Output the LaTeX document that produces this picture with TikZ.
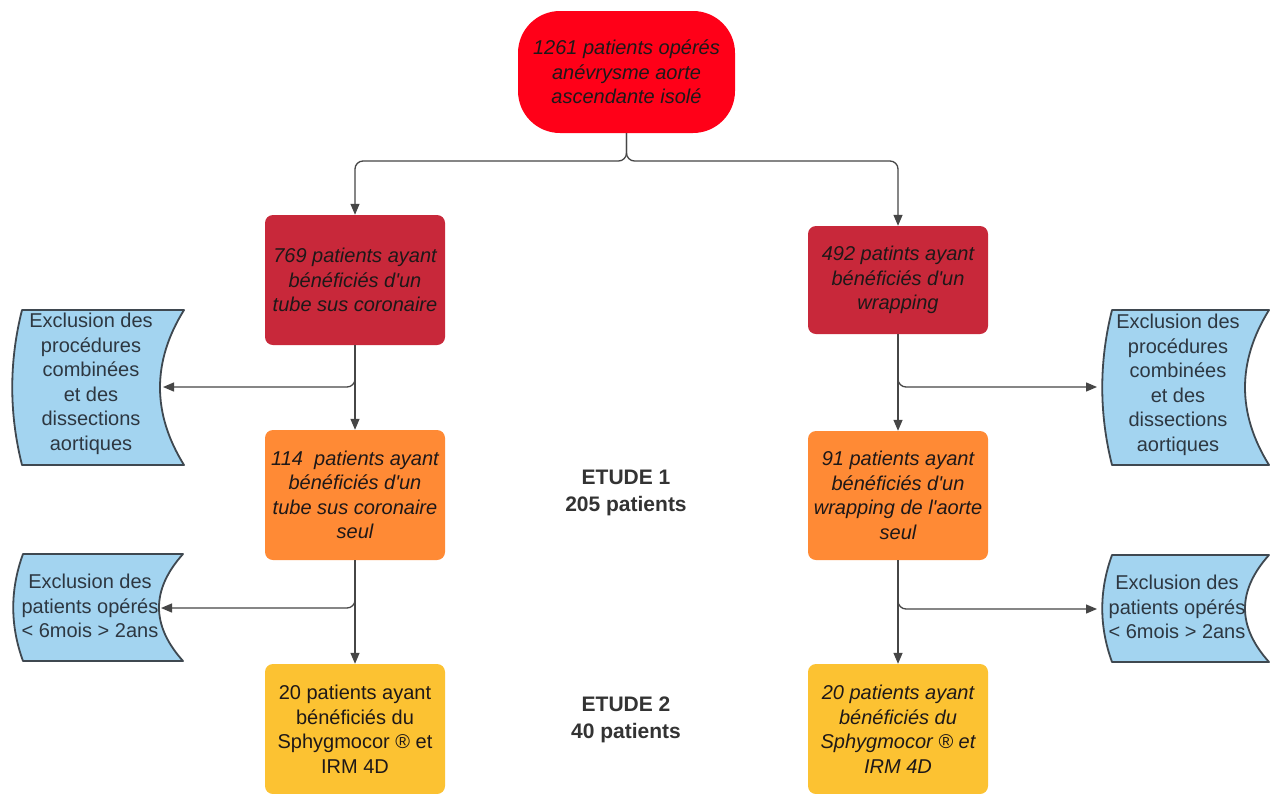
\documentclass[tikz,border=0pt]{standalone}
\usepackage{fontspec}
\setmainfont{Liberation Sans}
\usetikzlibrary{arrows.meta}
\definecolor{topred}{RGB}{255,0,24}
\definecolor{darkred}{RGB}{200,40,58}
\definecolor{orangeC}{RGB}{255,138,53}
\definecolor{yellowC}{RGB}{252,194,50}
\definecolor{blueC}{RGB}{163,212,240}
\definecolor{blueline}{RGB}{63,72,80}
\definecolor{lineC}{RGB}{70,70,70}
\definecolor{txt}{RGB}{30,24,24}
\definecolor{bluetxt}{RGB}{45,55,65}
\definecolor{etudetxt}{RGB}{51,51,51}
\newcommand\ap{\textquotesingle}
\newcommand\scrollshape[4]{%
  \draw[scroll] (#1,#3) -- (#2,#3)
    .. controls (#2-32,{#3+(#4-#3)/3}) and (#2-32,{#4-(#4-#3)/3}) .. (#2,#4)
    -- (#1,#4)
    .. controls (#1-13,{#4-(#4-#3)/3}) and (#1-13,{#3+(#4-#3)/3}) .. (#1,#3) -- cycle;}
\tikzset{
  box/.style={rectangle, rounded corners=8pt, minimum width=180pt, minimum height=130pt,
    inner sep=0pt, align=center, text=txt, font=\fontsize{20}{24.5}\selectfont},
  itbox/.style={box, font=\fontsize{20}{24.5}\selectfont\itshape},
  scroll/.style={fill=blueC, draw=blueline, line width=1.8pt, line join=round},
  bluetext/.style={align=center, text=bluetxt, inner sep=0pt, font=\fontsize{20}{24.5}\selectfont},
  etude/.style={align=center, text=etudetxt, inner sep=0pt, font=\fontsize{21}{26.5}\selectfont\bfseries},
  arr/.style={draw=lineC, line width=1.3pt, rounded corners=8pt, -{Triangle[length=11pt,width=9pt]}}
}
\begin{document}
\begin{tikzpicture}[x=1pt,y=-1pt]
\useasboundingbox (0,0) rectangle (1271,793);
\clip (0,0) rectangle (1271,793);
\fill[white] (0,0) rectangle (1271,793);

% main nodes
\node[itbox, fill=topred, minimum width=217pt, minimum height=122pt, rounded corners=42pt] (top) at (626.5,72)
  {1261 patients opérés\\anévrysme aorte\\ascendante isolé};
\node[itbox, fill=darkred] (l1) at (355,280) {769 patients ayant\\bénéficiés d\ap un\\tube sus coronaire};
\node[itbox, fill=darkred, minimum height=108pt] (r1) at (898,280) {492 patints ayant\\bénéficiés d\ap un\\wrapping};
\node[itbox, fill=orangeC] (o1) at (355,495) {114\ \ patients ayant\\bénéficiés d\ap un\\tube sus coronaire\\seul};
\node[itbox, fill=orangeC, minimum height=129pt] (o2) at (898,495.5) {91 patients ayant\\bénéficiés d\ap un\\wrapping de l\ap aorte\\seul};
\node[box, fill=yellowC] (y1) at (355,729) {20 patients ayant\\bénéficiés du\\Sphygmocor ® et\\IRM 4D};
\node[itbox, fill=yellowC] (y2) at (898,729) {20 patients ayant\\bénéficiés du\\Sphygmocor ® et\\IRM 4D};

% exclusion shapes
\scrollshape{22}{184}{310}{465}
\scrollshape{1112}{1269}{310}{465}
\scrollshape{23}{183}{554}{661}
\scrollshape{1112}{1269}{555}{662}
\node[bluetext] (b1) at (91,384) {Exclusion des\\procédures\\combinées\\et des\\dissections\\aortiques};
\node[bluetext] (b2) at (1178,385) {Exclusion des\\procédures\\combinées\\et des\\dissections\\aortiques};
\node[bluetext] (b3) at (90,606) {Exclusion des\\patients opérés\\< 6mois > 2ans};
\node[bluetext] (b4) at (1177,607) {Exclusion des\\patients opérés\\< 6mois > 2ans};
\coordinate (b1in) at (163,387);
\coordinate (b2in) at (1097,387);
\coordinate (b3in) at (161,608);
\coordinate (b4in) at (1097,609);

% study labels
\node[etude] (e1) at (626,493) {ETUDE 1\\205 patients};
\node[etude] (e2) at (626,720) {ETUDE 2\\40 patients};

% connectors
\coordinate (split) at (626.5,161);
\draw[arr] (top.south) -- (split) -| (l1.north);
\draw[arr] (top.south) -- (split) -| (r1.north);
\draw[arr] (l1.south) |- (b1in);
\draw[arr] (l1.south) -- (o1.north);
\draw[arr] (r1.south) |- (b2in);
\draw[arr] (r1.south) -- (o2.north);
\draw[arr] (o1.south) |- (b3in);
\draw[arr] (o1.south) -- (y1.north);
\draw[arr] (o2.south) |- (b4in);
\draw[arr] (o2.south) -- (y2.north);
\end{tikzpicture}
\end{document}
